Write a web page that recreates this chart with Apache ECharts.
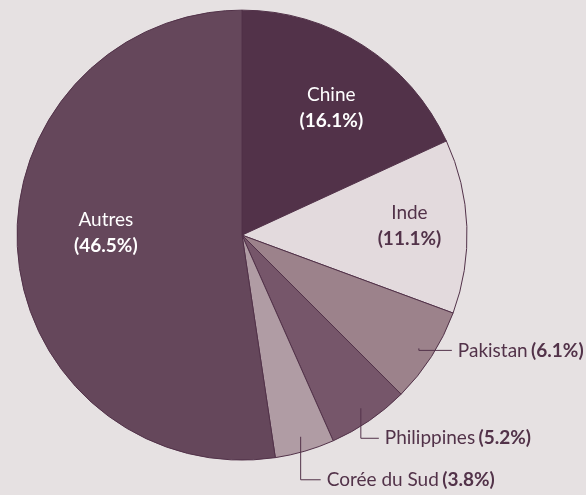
<!DOCTYPE html>
<html>
<head>
<meta charset="utf-8">
<script src="https://cdn.jsdelivr.net/npm/echarts@6/dist/echarts.min.js"></script>
<style>
html,body{margin:0;padding:0;background:#e6e1e2;}
#chart{width:586px;height:495px;}
</style>
</head>
<body>
<div id="chart"></div>
<script>
const categories = ['Chine', 'Inde', 'Pakistan', 'Philippines', 'Corée du Sud', 'Autres'];
const shares = [16.1, 11.1, 6.1, 5.2, 3.8, 46.5];
const sliceColors = ['#523249', '#e3dadd', '#9c828b', '#76566a', '#b09ca4', '#65475b'];
const insideLabels = ['Chine', 'Inde', 'Autres'];
const outsideLabels = ['Pakistan', 'Philippines', 'Corée du Sud'];

// label placement tweaks (style, not data)
const insideShift = { 'Chine': [27, -30], 'Inde': [52, -5], 'Autres': [-21, -11] };
const outsideShift = { 'Pakistan': [33, 2], 'Philippines': [18, 30], 'Corée du Sud': [20, 43] };

const DARK = '#523249';
const FONT = 'Lato';
const FS = 19;

const chart = echarts.init(document.getElementById('chart'), null, { renderer: 'canvas' });

const mainData = categories.map((c, i) => {
  const inside = insideLabels.indexOf(c) >= 0;
  const light = c === 'Inde';
  const col = light ? DARK : '#ffffff';
  return {
    name: c,
    value: shares[i],
    itemStyle: { color: sliceColors[i] },
    label: {
      show: inside,
      color: col,
      rich: {
        n: { fontFamily: FONT, fontSize: FS, color: col, lineHeight: 26 },
        b: { fontFamily: FONT, fontSize: FS, fontWeight: 'bold', color: col, lineHeight: 26 }
      }
    }
  };
});

const ghostData = categories.map((c, i) => {
  const outside = outsideLabels.indexOf(c) >= 0;
  return {
    name: c,
    value: shares[i],
    label: { show: outside },
    labelLine: { show: outside }
  };
});

const option = {
  backgroundColor: '#e6e1e2',
  animation: false,
  series: [
    {
      type: 'pie',
      z: 2,
      center: ['41.3%', '47.5%'],
      radius: [0, 225],
      startAngle: 90,
      clockwise: true,
      avoidLabelOverlap: false,
      silent: true,
      itemStyle: { borderColor: DARK, borderWidth: 1 },
      label: {
        position: 'inside',
        formatter: p => '{n|' + p.name + '}\n{b|(' + p.value.toFixed(1) + '%)}',
        align: 'center'
      },
      labelLine: { show: false },
      labelLayout: function (params) {
        const name = categories[params.dataIndex];
        const s = insideShift[name] || [0, 0];
        return { dx: s[0], dy: s[1] };
      },
      data: mainData
    },
    {
      type: 'pie',
      z: 10,
      center: ['41.3%', '47.5%'],
      radius: [0, 210],
      startAngle: 90,
      clockwise: true,
      avoidLabelOverlap: false,
      silent: true,
      itemStyle: { color: 'rgba(0,0,0,0)', borderWidth: 0 },
      label: {
        position: 'outside',
        formatter: p => '{n|' + p.name + '} {b|(' + p.value.toFixed(1) + '%)}',
        rich: {
          n: { fontFamily: FONT, fontSize: FS, color: DARK },
          b: { fontFamily: FONT, fontSize: FS, fontWeight: 'bold', color: DARK }
        }
      },
      labelLine: { show: true, length: 10, length2: 10, lineStyle: { color: DARK, width: 1 } },
      labelLayout: function (params) {
        const name = categories[params.dataIndex];
        const s = outsideShift[name];
        if (!s || !params.labelLinePoints) return {};
        const p0 = params.labelLinePoints[0];
        const lx = p0[0] + s[0];
        const ly = p0[1] + s[1];
        return {
          x: lx + 6,
          y: ly,
          align: 'left',
          verticalAlign: 'middle',
          labelLinePoints: [[p0[0], p0[1]], [p0[0], ly], [lx, ly]]
        };
      },
      data: ghostData
    }
  ]
};
chart.setOption(option);
</script>
</body>
</html>
